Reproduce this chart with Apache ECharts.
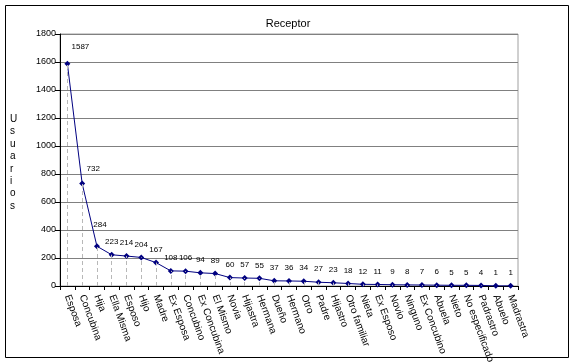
<!DOCTYPE html>
<html><head><meta charset="utf-8">
<script src="https://cdn.jsdelivr.net/npm/echarts@6/dist/echarts.min.js"></script>
<style>html,body{margin:0;padding:0;background:#fff}#c{width:575px;height:364px}</style>
</head><body><div id="c"></div>
<script>
const categories = ["Esposa","Concubina","Hija","Ella Misma","Esposo","Hijo","Madre","Ex Esposa","Concubino","Ex Concubina","El Mismo","Novia","Hijastra","Hermana","Dueño","Hermano","Otro","Padre","Hijastro","Otro familiar","Nieta","Ex Esposo","Novio","Ninguno","Ex Concubino","Abuela","Nieto","No especificado","Padrastro","Abuelo","Madrastra"];
const usuarios = [1587,732,284,223,214,204,167,108,106,94,89,60,57,55,37,36,34,27,23,18,12,11,9,8,7,6,5,5,4,1,1];
const yTicks = [0,200,400,600,800,1000,1200,1400,1600,1800];

const labelOffsets = {0:[13,-4],1:[11,-2],2:[3,-8]};
const seriesData = usuarios.map((v,i)=>{
  const o = {value:v};
  if (labelOffsets[i]) o.label = {offset: labelOffsets[i]};
  return o;
});
const dropLines = usuarios.map((v,i)=>[{coord:[i,0]},{coord:[i,v]}]);

const chart = echarts.init(document.getElementById('c'));
chart.setOption({
  animation:false,
  textStyle:{fontFamily:'Liberation Sans, Arial, sans-serif'},
  title:{text:'Receptor',left:283,top:13,textAlign:'center',
    textStyle:{fontSize:11,fontWeight:'normal',color:'#000',fontFamily:'Liberation Sans, Arial, sans-serif'}},
  graphic:[
    {type:'rect',shape:{x:5.5,y:5.5,width:563,height:352},style:{fill:null,stroke:'#000',lineWidth:1},silent:true,z:-1},
    {type:'text',left:10,top:113,style:{text:'U\ns\nu\na\nr\ni\no\ns',fontSize:10,lineHeight:12.4,fill:'#000',align:'center',fontFamily:'Liberation Sans, Arial, sans-serif'}}
  ],
  grid:{left:60,right:57,top:34,bottom:78,outerBoundsMode:'none',show:true,borderColor:'#a0a0a0',borderWidth:1,backgroundColor:'transparent'},
  xAxis:{type:'category',data:categories,boundaryGap:true,
    axisLine:{lineStyle:{color:'#000',width:1}},
    axisTick:{show:true,alignWithLabel:false,length:4,lineStyle:{color:'#000'}},
    axisLabel:{interval:0,rotate:-70,margin:9,fontSize:10,color:'#000'},
    splitLine:{show:false}},
  yAxis:{type:'value',min:0,max:1800,interval:200,
    axisLine:{show:true,lineStyle:{color:'#000'}},
    axisTick:{show:true,length:5,lineStyle:{color:'#000'}},
    axisLabel:{fontSize:9,color:'#000',margin:4,formatter:v=>yTicks.includes(v)?String(v):''},
    splitLine:{lineStyle:{color:'#808080',width:1}}},
  series:[{
    type:'line',data:seriesData,
    symbol:'diamond',symbolSize:6,
    itemStyle:{color:'#000080'},
    lineStyle:{color:'#000080',width:1},
    label:{show:true,position:'top',distance:6,fontSize:8,color:'#000'},
    markLine:{silent:true,symbol:['none','none'],label:{show:false},
      lineStyle:{type:[4,3],color:'#b8b8b8',width:1},
      data:dropLines},
    z:3
  }]
});
</script>
</body></html>
